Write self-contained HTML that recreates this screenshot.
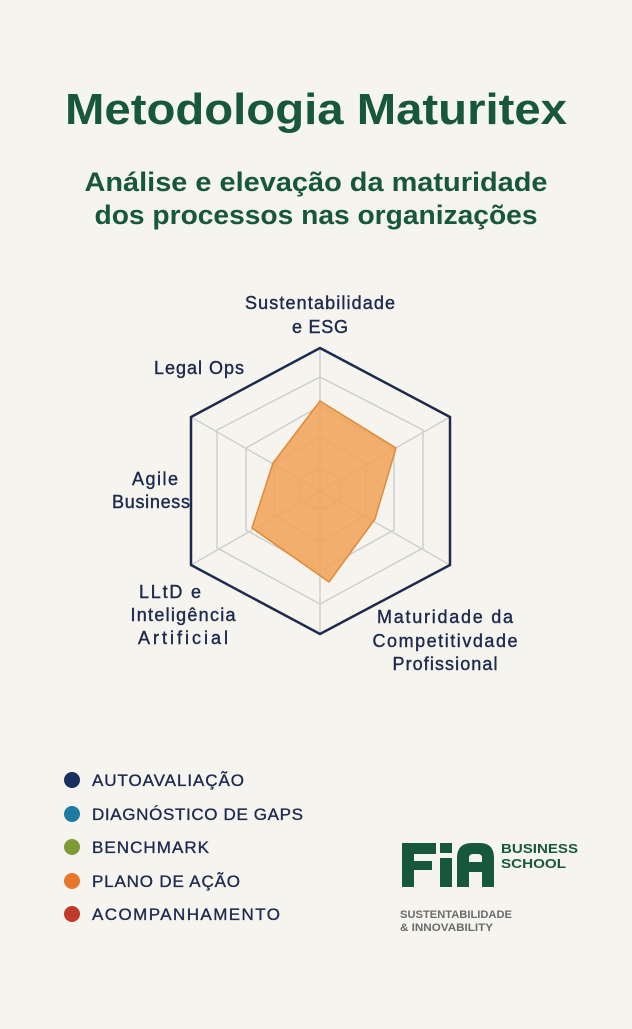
<!DOCTYPE html>
<html><head><meta charset="utf-8"><style>
body{margin:0;width:632px;height:1024px;background:#f6f4ef;overflow:hidden;font-family:"Liberation Sans",sans-serif}
</style></head><body>
<svg width="632" height="1024" viewBox="0 0 632 1024" xmlns="http://www.w3.org/2000/svg" font-family="Liberation Sans, sans-serif">
<text x="316" y="124" text-anchor="middle" font-size="44" font-weight="bold" fill="#17573a" textLength="502" lengthAdjust="spacingAndGlyphs">Metodologia Maturitex</text>
<text x="316" y="191" text-anchor="middle" font-size="27" font-weight="bold" fill="#17573a" textLength="463" lengthAdjust="spacingAndGlyphs">Análise e elevação da maturidade</text>
<text x="316" y="224" text-anchor="middle" font-size="27" font-weight="bold" fill="#17573a" textLength="443" lengthAdjust="spacingAndGlyphs">dos processos nas organizações</text>
<g fill="none" stroke="#cfcfcc" stroke-width="1.5">
<polygon points="320,377 423,430 423,548 320,604 217,548 217,430"/>
<polygon points="320,406 394,448 394,530 320,571 246,530 246,448"/>
<polygon points="320,437 366,463 366,515 320,543 274,515 274,463"/>
<polygon points="320,468 340,479 340,500 320,510 300,500 300,479"/>
<line x1="320" y1="348" x2="320" y2="634"/>
<line x1="191" y1="417" x2="450" y2="565"/>
<line x1="450" y1="417" x2="191" y2="565"/>
</g>
<polygon points="320,401 396,448 375,519 329,582 252,528 273,463" fill="#f0a45a" fill-opacity="0.88" stroke="#e08a3a" stroke-width="1.5"/>
<polygon points="320,348 450,417 450,565 320,634 191,565 191,417" fill="none" stroke="#1d2a4e" stroke-width="2.5"/>
<g font-size="18" fill="#1d2a4e" stroke="#1d2a4e" stroke-width="0.4" text-anchor="middle" lengthAdjust="spacingAndGlyphs">
<text x="320" y="309" textLength="150">Sustentabilidade</text>
<text x="320" y="333" textLength="56">e ESG</text>
<text x="199" y="374" textLength="90">Legal Ops</text>
<text x="155" y="485" textLength="46">Agile</text>
<text x="151" y="508" textLength="78">Business</text>
<text x="170" y="598" textLength="62">LLtD e</text>
<text x="183" y="621" textLength="105">Inteligência</text>
<text x="183" y="644" textLength="90">Artificial</text>
<text x="445" y="623" textLength="136">Maturidade da</text>
<text x="445" y="647" textLength="145">Competitivdade</text>
<text x="445" y="670" textLength="105">Profissional</text>
</g>
<g font-size="17" fill="#1d2a4e" stroke="#1d2a4e" stroke-width="0.35" lengthAdjust="spacingAndGlyphs">
<circle cx="72" cy="780" r="8" fill="#1b2f5e" stroke="none"/><text x="92" y="786" textLength="152">AUTOAVALIAÇÃO</text>
<circle cx="72" cy="814" r="8" fill="#1f7aa0" stroke="none"/><text x="92" y="820" textLength="211">DIAGNÓSTICO DE GAPS</text>
<circle cx="72" cy="847" r="8" fill="#7d9c34" stroke="none"/><text x="92" y="853" textLength="117">BENCHMARK</text>
<circle cx="72" cy="881" r="8" fill="#e8772c" stroke="none"/><text x="92" y="887" textLength="148">PLANO DE AÇÃO</text>
<circle cx="72" cy="914" r="8" fill="#c0392b" stroke="none"/><text x="92" y="920" textLength="188">ACOMPANHAMENTO</text>
</g>
<g fill="#17573a">
<rect x="402" y="843" width="12" height="44"/><rect x="402" y="843" width="34" height="11"/><rect x="402" y="861" width="30" height="9"/>
<rect x="440" y="843" width="12" height="10"/><rect x="440" y="858" width="12" height="29"/>
<path d="M457 887 V858 Q457 843 472 843 H480 Q494 843 494 858 V887 H482 V872 H469 V887 Z M469 862 H482 V858 Q482 854 478 854 H473 Q469 854 469 858 Z"/>
<text x="501" y="853" font-size="13" font-weight="bold" textLength="77" lengthAdjust="spacingAndGlyphs">BUSINESS</text>
<text x="501" y="868" font-size="13" font-weight="bold" textLength="65" lengthAdjust="spacingAndGlyphs">SCHOOL</text>
</g>
<text x="400" y="918" font-size="11" font-weight="bold" fill="#6b6b68" textLength="112" lengthAdjust="spacingAndGlyphs">SUSTENTABILIDADE</text>
<text x="400" y="931" font-size="11" font-weight="bold" fill="#6b6b68" textLength="93" lengthAdjust="spacingAndGlyphs">&amp; INNOVABILITY</text>
</svg>
</body></html>
